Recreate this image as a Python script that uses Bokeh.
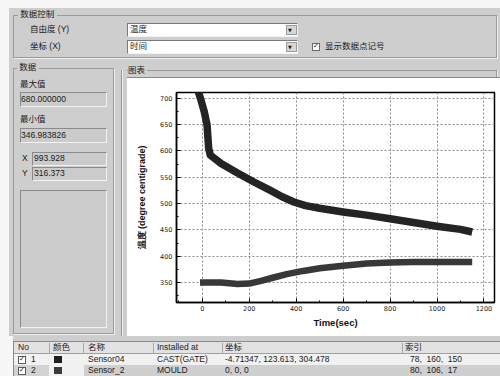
from bokeh.plotting import figure
from bokeh.layouts import column, row
from bokeh.models import Div, SingleIntervalTicker
from bokeh.embed import file_html
from bokeh.resources import INLINE

# ---------------- chart data ----------------
sensor04_time = [-22, -8, 8, 20, 24, 27, 34, 80, 150, 220, 290, 340, 390, 440, 500, 600, 700, 800, 900, 1000, 1100, 1150]
sensor04_temp = [720, 700, 675, 650, 625, 605, 592, 576, 558, 541, 525, 513, 503, 496, 491, 484, 478, 471, 464, 457, 451, 446]
sensor2_time = [-10, 80, 150, 200, 250, 300, 360, 430, 500, 600, 700, 800, 900, 1000, 1150]
sensor2_temp = [350, 350, 347, 348, 353, 359, 366, 372, 377, 382, 386, 388, 389, 389, 389]

# ---------------- UI texts ----------------
control_title = "数据控制"
y_label_ui, y_choice = "自由度 (Y)", "温度"
x_label_ui, x_choice = "坐标 (X)", "时间"
show_marks = "显示数据点记号"
data_title = "数据"
max_label, max_value = "最大值", "680.000000"
min_label, min_value = "最小值", "346.983826"
cursor_x, cursor_y = "993.928", "316.373"
chart_title = "图表"
table_headers = ["No", "颜色", "名称", "Installed at", "坐标", "索引"]
table_rows = [
    ["1", "#1e1e1e", "Sensor04", "CAST(GATE)", "-4.71347, 123.613, 304.478", "78,&nbsp;&nbsp;160,&nbsp;&nbsp;150"],
    ["2", "#3c3c3c", "Sensor_2", "MOULD", "0, 0, 0", "80,&nbsp;&nbsp;106,&nbsp;&nbsp;17"],
]

BG = "#cecece"
FONT = "'Liberation Sans','Noto Sans CJK SC',sans-serif"


def T(ox, oy, x, y, s, size=8.5, color="#1a1a1a", weight="normal", extra=""):
    lh = size * 1.4
    return (f'<div style="position:absolute;left:{x-ox}px;top:{y-oy-lh/2:.1f}px;'
            f'font-size:{size}px;line-height:{lh:.1f}px;color:{color};font-weight:{weight};'
            f'white-space:nowrap;font-family:{FONT};{extra}">{s}</div>')


def B(ox, oy, x, y, w, h, style):
    return (f'<div style="position:absolute;left:{x-ox}px;top:{y-oy}px;width:{w}px;height:{h}px;'
            f'box-sizing:border-box;{style}"></div>')


INSET_W = "background:#ffffff;border-top:1px solid #7a7a7a;border-left:1px solid #7a7a7a;border-bottom:1px solid #f2f2f2;border-right:1px solid #f2f2f2;"
INSET_G = "background:#cbcbcb;border-top:1px solid #8a8a8a;border-left:1px solid #8a8a8a;border-bottom:1px solid #f2f2f2;border-right:1px solid #f2f2f2;"
GROUP = "border:1px solid #9a9a9a;box-shadow:1px 1px 0 #f0f0f0;"
WHITE = "background:#f7f7f7;"


def wrap(w, h, inner, bg=BG):
    return (f'<div style="position:relative;width:{w}px;height:{h}px;overflow:hidden;background:{bg};'
            f'font-family:{FONT};">{inner}</div>')


# ---------------- top control panel (0..500 x 0..62) ----------------
ox, oy = 0, 0
h = []
h.append(B(ox, oy, 0, 0, 500, 8, WHITE))
h.append(B(ox, oy, 0, 0, 9, 62, WHITE))
h.append(B(ox, oy, 13, 15, 484, 43, GROUP))
h.append(T(ox, oy, 18, 15, f'&nbsp;{control_title}&nbsp;', extra=f"background:{BG};"))
h.append(T(ox, oy, 30, 30, y_label_ui))
h.append(B(ox, oy, 127, 23, 171, 14, INSET_W))
h.append(T(ox, oy, 130, 30, y_choice))
h.append(B(ox, oy, 286, 25, 11, 10, "background:#d8d8d8;border:1px solid #9a9a9a;"))
h.append(T(ox, oy, 288, 30, "▼", size=5, extra="font-family:'DejaVu Sans';"))
h.append(T(ox, oy, 30, 47, x_label_ui))
h.append(B(ox, oy, 127, 40, 171, 14, INSET_W))
h.append(T(ox, oy, 130, 47, x_choice))
h.append(B(ox, oy, 286, 42, 11, 10, "background:#d8d8d8;border:1px solid #9a9a9a;"))
h.append(T(ox, oy, 288, 47, "▼", size=5, extra="font-family:'DejaVu Sans';"))
h.append(B(ox, oy, 312, 43, 8, 8, "background:#fff;border:1px solid #6a6a6a;"))
h.append(T(ox, oy, 313, 47, "✓", size=7, extra="font-family:'DejaVu Sans';font-weight:bold;"))
h.append(T(ox, oy, 325, 47, show_marks))
top = Div(text=wrap(500, 62, "".join(h)), width=500, height=62, margin=(0, 0, 0, 0))

# ---------------- left data panel (0..127 x 62..336) ----------------
ox, oy = 0, 62
h = []
h.append(B(ox, oy, 0, 62, 9, 274, WHITE))
h.append(B(ox, oy, 13, 68, 101, 266, GROUP))
h.append(T(ox, oy, 17, 68, f'&nbsp;{data_title}&nbsp;', extra=f"background:{BG};"))
h.append(T(ox, oy, 20, 85, max_label))
h.append(B(ox, oy, 20, 92, 87, 15, INSET_G))
h.append(T(ox, oy, 21, 99.5, max_value))
h.append(T(ox, oy, 20, 120, min_label))
h.append(B(ox, oy, 20, 128, 87, 15, INSET_G))
h.append(T(ox, oy, 21, 135.5, min_value))
h.append(T(ox, oy, 22, 159, "X"))
h.append(B(ox, oy, 32, 152, 75, 14, INSET_G))
h.append(T(ox, oy, 34, 159, cursor_x))
h.append(T(ox, oy, 22, 174, "Y"))
h.append(B(ox, oy, 32, 167, 75, 14, INSET_G))
h.append(T(ox, oy, 34, 174, cursor_y))
h.append(B(ox, oy, 20, 190, 87, 138, INSET_G))
h.append(B(ox, oy, 121, 70, 6, 266, "border-left:1px solid #9a9a9a;box-shadow:1px 0 0 #f0f0f0 inset;"))
left = Div(text=wrap(127, 274, "".join(h)), width=127, height=274, margin=(0, 0, 0, 0))

# ---------------- chart group title band (127..500 x 62..78) ----------------
ox, oy = 127, 62
h = []
h.append(B(ox, oy, 120, 70, 377, 30, GROUP))
h.append(T(ox, oy, 128, 71, f'{chart_title}&nbsp;', extra=f"background:{BG};"))
h.append(B(ox, oy, 127, 77, 373, 1, "background:#8a8a8a;"))
band = Div(text=wrap(373, 16, "".join(h)), width=373, height=16, margin=(0, 0, 0, 0))

# ---------------- chart ----------------
p = figure(width=373, height=258, x_range=(-110, 1245), y_range=(312, 711),
           output_backend="svg", toolbar_location=None,
           min_border_left=49, min_border_right=6, min_border_top=14, min_border_bottom=34,
           background_fill_color="white", border_fill_color="white",
           outline_line_color="black", outline_line_width=1.5, margin=(0, 0, 0, 0))
p.line(sensor04_time, sensor04_temp, line_width=7.5, line_color="#242424", line_join="round")
p.line(sensor2_time, sensor2_temp, line_width=6.5, line_color="#383838", line_join="round")

p.xaxis.ticker = SingleIntervalTicker(interval=200, num_minor_ticks=2)
p.yaxis.ticker = SingleIntervalTicker(interval=50, num_minor_ticks=2)
for ax in (p.xaxis, p.yaxis):
    ax.axis_line_color = "black"
    ax.axis_line_width = 1.5
    ax.major_tick_in = 4
    ax.major_tick_out = 0
    ax.minor_tick_in = 2
    ax.minor_tick_out = 0
    ax.major_tick_line_color = "black"
    ax.minor_tick_line_color = "black"
    ax.major_label_text_font = "DejaVu Sans"
    ax.major_label_text_font_size = "6.5px"
    ax.major_label_text_color = "#222222"
    ax.axis_label_text_font = "Liberation Sans"
    ax.axis_label_text_font_style = "bold"
    ax.axis_label_text_color = "#111111"
p.xaxis.axis_label = "Time(sec)"
p.yaxis.axis_label = "温度 (degree centigrade)"
p.xaxis.axis_label_text_font_size = "9.5px"
p.yaxis.axis_label_text_font_size = "9px"
p.xaxis.major_label_standoff = 3
p.xaxis.axis_label_standoff = 3
p.yaxis.major_label_standoff = 4
p.yaxis.axis_label_standoff = 10
for g in (p.xgrid, p.ygrid):
    g.grid_line_color = "#8c8c8c"
    g.grid_line_dash = "2 2"
    g.grid_line_width = 1

right = column(band, p, spacing=0, margin=(0, 0, 0, 0))
mid = row(left, right, spacing=0, margin=(0, 0, 0, 0))

# ---------------- bottom table (0..500 x 336..376) ----------------
ox, oy = 0, 336
h = []
h.append(B(ox, oy, 0, 336, 13, 40, WHITE))
h.append(B(ox, oy, 13, 341, 487, 35, "background:#f1f1f1;border-top:1px solid #8a8a8a;border-left:1px solid #8a8a8a;"))
h.append(B(ox, oy, 14, 342, 486, 12, "background:#e2e2e2;border-bottom:1px solid #a0a0a0;"))
for sx in (49, 83, 153, 222, 402):
    h.append(B(ox, oy, sx, 343, 1, 10, "background:#a8a8a8;"))
hx = [18, 53, 88, 157, 225, 405]
for x, s in zip(hx, table_headers):
    h.append(T(ox, oy, x, 348, s))
h.append(B(ox, oy, 14, 365, 35, 11, "background:#d2d2d2;"))
h.append(B(ox, oy, 84, 365, 416, 11, "background:#cfcfcf;"))
for i, (no, colr, name, inst, coord, idx) in enumerate(table_rows):
    cy = 359.5 + 11 * i
    h.append(B(ox, oy, 18, cy - 4, 8, 8, "background:#fff;border:1px solid #5a5a5a;"))
    h.append(T(ox, oy, 19, cy, "✓", size=7, extra="font-family:'DejaVu Sans';font-weight:bold;"))
    h.append(T(ox, oy, 31, cy, no))
    h.append(B(ox, oy, 54, cy - 3.5, 8, 7, f"background:{colr};"))
    h.append(T(ox, oy, 88, cy, name))
    h.append(T(ox, oy, 157, cy, inst))
    h.append(T(ox, oy, 225, cy, coord))
    h.append(T(ox, oy, 410, cy, idx))
bottom = Div(text=wrap(500, 40, "".join(h)), width=500, height=40, margin=(0, 0, 0, 0))

layout = column(top, mid, bottom, spacing=0, margin=(0, 0, 0, 0))

open("out.html", "w").write(file_html(layout, INLINE))
